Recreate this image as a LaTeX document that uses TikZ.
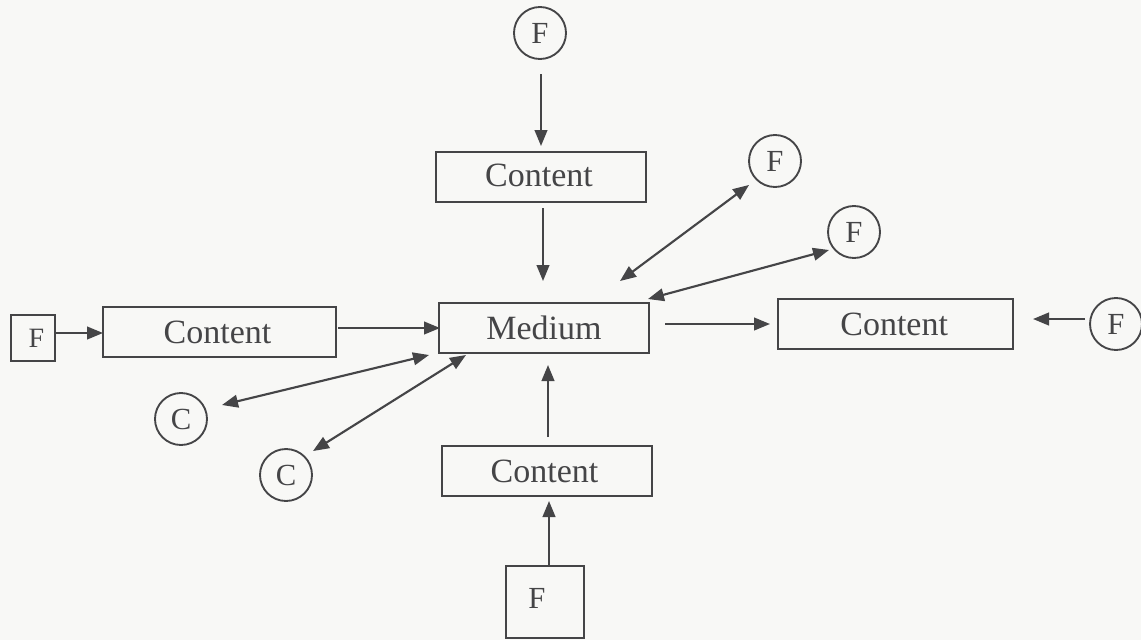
\documentclass[tikz,border=0pt]{standalone}
\usepackage{fontspec}
\setmainfont{Liberation Serif}
\usetikzlibrary{arrows.meta}
\definecolor{ink}{HTML}{454547}
\definecolor{paper}{HTML}{F8F8F6}
\tikzset{
  x=0.75pt,y=-0.75pt,
  box/.style={draw=ink,line width=1.5pt,text=ink,font=\fontsize{25.5}{27}\selectfont,inner sep=0pt,anchor=center},
  circ/.style={draw=ink,circle,line width=1.4pt,text=ink,font=\fontsize{23}{25}\selectfont,inner sep=0pt,minimum size=39pt},
  conn/.style={draw=ink,line width=1.6pt,-{Triangle[length=12pt,width=9.5pt]}},
  biconn/.style={draw=ink,line width=1.6pt,{Triangle[length=12pt,width=9.5pt]}-{Triangle[length=12pt,width=9.5pt]}},
}
\begin{document}
\begin{tikzpicture}
\useasboundingbox (0,0) rectangle (1141,640);
\fill[paper] (0,0) rectangle (1141,640);
% nodes
\node[circ] (ftop) at (540,33) {F};
\node[box,minimum width=157.5pt,minimum height=37.5pt] (ctop) at (541,177) {\raisebox{2.5pt}{Content}\kern3pt};
\node[box,minimum width=157.5pt,minimum height=37.5pt] (med) at (544,328) {Medium};
\node[box,minimum width=175pt,minimum height=37.5pt] (cleft) at (219.5,332) {\raisebox{-0.5pt}{Content}\kern3pt};
\node[box,minimum width=176pt,minimum height=37.5pt] (cright) at (895.5,324) {Content\kern2pt};
\node[box,minimum width=157.5pt,minimum height=37.5pt] (cbot) at (546.5,471) {Content\kern3pt};
\node[box,minimum width=59pt,minimum height=54pt,font=\fontsize{23}{25}\selectfont] (fbot) at (545,602) {\raisebox{5pt}{F}\kern12pt};
\node[box,minimum width=33pt,minimum height=35pt,font=\fontsize{21}{23}\selectfont] (fleft) at (32.5,338) {\kern6pt\raisebox{-2pt}{F}};
\node[circ] (fr1) at (775,161) {F};
\node[circ] (fr2) at (854,232) {F};
\node[circ] (fr3) at (1116,324) {F};
\node[circ] (c1) at (181,419) {C};
\node[circ] (c2) at (286,475) {C};
% free ends
\coordinate (a1) at (541,74); \coordinate (a2) at (541,146);
\coordinate (b1) at (543,208); \coordinate (b2) at (543,281);
\coordinate (d1) at (749,185); \coordinate (d2) at (620,281);
\coordinate (e1) at (829,250); \coordinate (e2) at (648,299);
\coordinate (g1) at (665,324); \coordinate (g2) at (770,324);
\coordinate (h1) at (1085,319); \coordinate (h2) at (1033,319);
\coordinate (i1) at (338,328); \coordinate (i2) at (440,328);
\coordinate (j1) at (56,333); \coordinate (j2) at (103,333);
\coordinate (k1) at (429,355); \coordinate (k2) at (222,405);
\coordinate (l1) at (466,355); \coordinate (l2) at (313,451);
\coordinate (m1) at (548,437); \coordinate (m2) at (548,365);
\coordinate (n1) at (549,566); \coordinate (n2) at (549,501);
% connectors
\draw[conn] (a1) -- (a2);
\draw[conn] (b1) -- (b2);
\draw[biconn] (d1) -- (d2);
\draw[biconn] (e1) -- (e2);
\draw[conn] (g1) -- (g2);
\draw[conn] (h1) -- (h2);
\draw[conn] (i1) -- (i2);
\draw[conn] (j1) -- (j2);
\draw[biconn] (k1) -- (k2);
\draw[biconn] (l1) -- (l2);
\draw[conn] (m1) -- (m2);
\draw[conn] (n1) -- (n2);
\end{tikzpicture}
\end{document}
